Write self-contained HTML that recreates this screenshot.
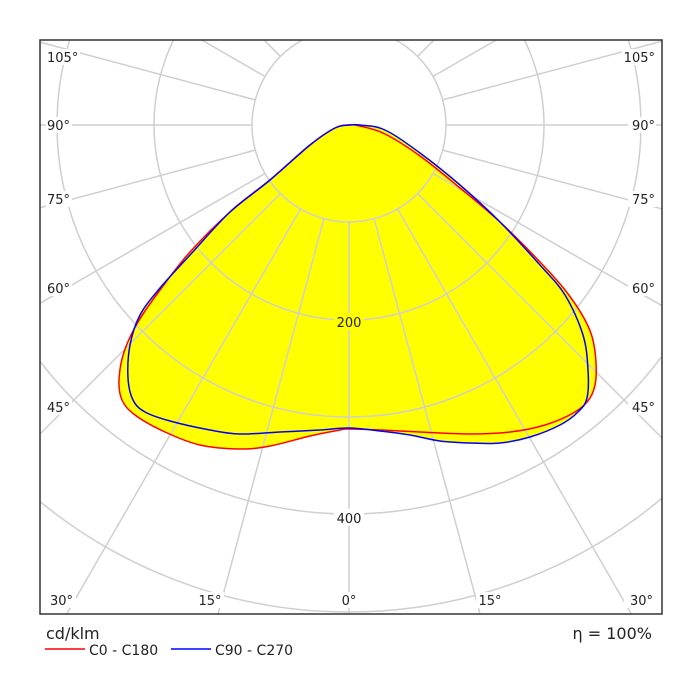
<!DOCTYPE html>
<html><head><style>html,body{margin:0;background:#fff;width:700px;height:700px;overflow:hidden}svg{display:block}text{font-family:"DejaVu Sans","Liberation Sans",sans-serif;font-size:13px;fill:#222}</style></head><body>
<svg width="700" height="700" viewBox="0 0 700 700">
<defs><clipPath id="c"><rect x="40" y="40" width="622" height="574"/></clipPath></defs>
<g clip-path="url(#c)">
<path id="fr" fill="#ffff00"/>
<path id="fb" fill="#ffff00"/>
<g fill="none" stroke="#cfcfcf" stroke-width="1.5">
<circle cx="349" cy="125" r="97"/><circle cx="349" cy="125" r="195"/><circle cx="349" cy="125" r="292"/><circle cx="349" cy="125" r="389"/><circle cx="349" cy="125" r="487"/><circle cx="349" cy="125" r="584"/><circle cx="349" cy="125" r="681"/>
<g transform="translate(349,125)">
<line x1="0" y1="97" x2="0" y2="1000" transform="rotate(0)"/>
<line x1="0" y1="97" x2="0" y2="1000" transform="rotate(15)"/><line x1="0" y1="97" x2="0" y2="1000" transform="rotate(-15)"/>
<line x1="0" y1="97" x2="0" y2="1000" transform="rotate(30)"/><line x1="0" y1="97" x2="0" y2="1000" transform="rotate(-30)"/>
<line x1="0" y1="97" x2="0" y2="1000" transform="rotate(45)"/><line x1="0" y1="97" x2="0" y2="1000" transform="rotate(-45)"/>
<line x1="0" y1="97" x2="0" y2="1000" transform="rotate(60)"/><line x1="0" y1="97" x2="0" y2="1000" transform="rotate(-60)"/>
<line x1="0" y1="97" x2="0" y2="1000" transform="rotate(75)"/><line x1="0" y1="97" x2="0" y2="1000" transform="rotate(-75)"/>
<line x1="0" y1="97" x2="0" y2="1000" transform="rotate(90)"/><line x1="0" y1="97" x2="0" y2="1000" transform="rotate(-90)"/>
<line x1="0" y1="97" x2="0" y2="1000" transform="rotate(105)"/><line x1="0" y1="97" x2="0" y2="1000" transform="rotate(-105)"/>
<line x1="0" y1="97" x2="0" y2="1000" transform="rotate(120)"/><line x1="0" y1="97" x2="0" y2="1000" transform="rotate(-120)"/>
<line x1="0" y1="97" x2="0" y2="1000" transform="rotate(135)"/><line x1="0" y1="97" x2="0" y2="1000" transform="rotate(-135)"/>
<line x1="0" y1="97" x2="0" y2="1000" transform="rotate(150)"/><line x1="0" y1="97" x2="0" y2="1000" transform="rotate(-150)"/>
<line x1="0" y1="97" x2="0" y2="1000" transform="rotate(165)"/><line x1="0" y1="97" x2="0" y2="1000" transform="rotate(-165)"/>
<line x1="0" y1="97" x2="0" y2="1000" transform="rotate(180)"/>
</g></g>
<path id="sr" fill="none" stroke="#ff0000" stroke-width="1.5" stroke-linejoin="round"/>
<path id="sb" fill="none" stroke="#0000ff" stroke-width="1.5" stroke-linejoin="round"/>
</g>
<rect x="40" y="40" width="622" height="574" fill="none" stroke="#333" stroke-width="1.5"/>
<g>
<rect x="334" y="313" width="30" height="17" fill="#ffff00"/><text x="349" y="327" text-anchor="middle">200</text>
<rect x="334" y="509" width="30" height="17" fill="#fff"/><text x="349" y="523" text-anchor="middle">400</text>
<g fill="#fff"><rect x="46" y="49" width="34" height="16"/><rect x="46" y="117" width="26" height="16"/><rect x="46" y="191" width="26" height="16"/><rect x="46" y="280" width="26" height="16"/><rect x="46" y="399" width="26" height="16"/><rect x="48" y="592" width="28" height="16"/><rect x="196" y="592" width="28" height="16"/><rect x="340" y="592" width="20" height="16"/><rect x="476" y="592" width="28" height="16"/><rect x="624" y="592" width="30" height="16"/><rect x="622" y="49" width="36" height="16"/><rect x="628" y="117" width="28" height="16"/><rect x="628" y="191" width="28" height="16"/><rect x="628" y="280" width="28" height="16"/><rect x="628" y="399" width="28" height="16"/></g>
<text x="47" y="62">105°</text><text x="47" y="130">90°</text><text x="47" y="204">75°</text><text x="47" y="293">60°</text><text x="47" y="412">45°</text>
<text x="50" y="605">30°</text><text x="210" y="605" text-anchor="middle">15°</text><text x="349" y="605" text-anchor="middle">0°</text><text x="490" y="605" text-anchor="middle">15°</text><text x="653" y="605" text-anchor="end">30°</text>
<text x="655" y="62" text-anchor="end">105°</text><text x="655" y="130" text-anchor="end">90°</text><text x="655" y="204" text-anchor="end">75°</text><text x="655" y="293" text-anchor="end">60°</text><text x="655" y="412" text-anchor="end">45°</text>
<text x="46" y="639" style="font-size:16px">cd/klm</text>
<text x="652" y="639" text-anchor="end" style="font-size:16px">η = 100%</text>
<line x1="45" y1="649" x2="85" y2="649" stroke="#ff0000" stroke-width="1.5"/><text x="89" y="655" style="font-size:14px">C0 - C180</text>
<line x1="171" y1="649" x2="211" y2="649" stroke="#0000ff" stroke-width="1.5"/><text x="215" y="655" style="font-size:14px">C90 - C270</text>
</g>
</svg>
<script>
var R=[[349,125],[335,128],[310,145],[270,180],[230,212],[190,252],[160,290],[138,322],[124,352],[119,380],[122,400],[135,415],[165,432],[200,445],[240,449],[270,446],[310,436],[340,430],[349,429],[380,430],[420,432],[470,434],[510,432],[545,425],[575,412],[590,398],[596,378],[594,345],[585,320],[565,290],[540,262],[500,222],[460,188],[420,156],[385,134],[360,126]];
var B=[[349,125],[335,128],[310,145],[270,180],[230,212],[190,255],[160,288],[140,315],[130,345],[128,378],[133,400],[145,412],[170,421],[210,430],[240,434],[280,432],[320,430],[349,428],[380,431],[410,435],[440,441],[470,443],[500,443],[530,437],[560,425],[578,412],[587,398],[588,370],[583,335],[565,295],[540,265],[500,222],[460,185],[420,153],[385,130],[360,125]];
function sm(p){var n=p.length,d="M"+p[0];for(var i=0;i<n;i++){var p0=p[(i-1+n)%n],p1=p[i],p2=p[(i+1)%n],p3=p[(i+2)%n];
var c1=[p1[0]+(p2[0]-p0[0])/6,p1[1]+(p2[1]-p0[1])/6],c2=[p2[0]-(p3[0]-p1[0])/6,p2[1]-(p3[1]-p1[1])/6];
d+=" C"+c1+" "+c2+" "+p2;}return d+"Z";}
var r=sm(R),b=sm(B);
document.getElementById("fr").setAttribute("d",r);document.getElementById("sr").setAttribute("d",r);
document.getElementById("fb").setAttribute("d",b);document.getElementById("sb").setAttribute("d",b);
</script>
</body></html>
